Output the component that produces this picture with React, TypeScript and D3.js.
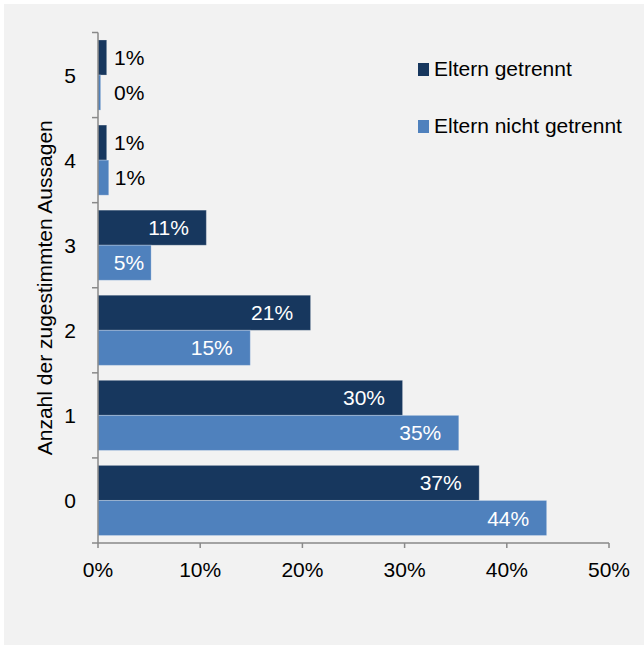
import * as d3 from 'd3';

// Anzahl der zugestimmten Aussagen (y categories, bottom to top)
const categories = ['0', '1', '2', '3', '4', '5'];
const seriesNames = ['Eltern getrennt', 'Eltern nicht getrennt'];
// values in percent
const getrennt = [37.3, 29.8, 20.8, 10.6, 0.85, 0.85];
const nichtGetrennt = [43.9, 35.3, 14.9, 5.2, 1.05, 0.26];
const labelsGetrennt = ['37%', '30%', '21%', '11%', '1%', '1%'];
const labelsNichtGetrennt = ['44%', '35%', '15%', '5%', '1%', '0%'];
const xTicks = [0, 10, 20, 30, 40, 50];

const colors = {
  dark: '#17375e',
  light: '#4f81bd',
  axis: '#898989',
  bg: '#f2f2f2',
};

const width = 644;
const height = 646;
const margin = { top: 32.5, right: 35, bottom: 103, left: 98 };
const font = '"Liberation Sans", Arial, sans-serif';
const fontSize = 21;

export default function App() {
  const x = d3
    .scaleLinear()
    .domain([0, 50])
    .range([margin.left, width - margin.right]);

  const y = d3
    .scaleBand<string>()
    .domain([...categories].reverse())
    .range([margin.top, height - margin.bottom])
    .paddingInner(0.176)
    .paddingOuter(0.088);

  const inner = d3
    .scaleBand<string>()
    .domain(seriesNames)
    .range([0, y.bandwidth()]);

  const gap = (y.step() - y.bandwidth()) / 2;
  const boundaries = categories.map((c) => (y(c) ?? 0) - gap);
  boundaries.push((y(categories[0]) ?? 0) + y.bandwidth() + gap);

  const series = [
    { name: seriesNames[0], values: getrennt, labels: labelsGetrennt, color: colors.dark },
    { name: seriesNames[1], values: nichtGetrennt, labels: labelsNichtGetrennt, color: colors.light },
  ];

  const x0 = x(0);
  const axisY = height - margin.bottom;

  return (
    <svg
      width={width}
      height={height}
      style={{ position: 'absolute', left: 0, top: 0, fontFamily: font }}
    >
      <rect x={0} y={0} width={width} height={height} fill="#fff" />
      <rect x={4} y={4} width={width - 4} height={height - 5} fill={colors.bg} />

      {/* bars */}
      {series.map((s) => (
        <g key={s.name}>
          {categories.map((c, i) => {
            const by = (y(c) ?? 0) + (inner(s.name) ?? 0);
            const bh = inner.bandwidth();
            const end = x(s.values[i]);
            const bw = end - x0;
            const insideLabel = s.values[i] >= 4;
            const inset = bw < 60 ? 7 : 17.5;
            return (
              <g key={c}>
                <rect
                  x={x0}
                  y={by}
                  width={bw}
                  height={bh}
                  fill={s.color}
                  stroke="#ffffff"
                  strokeOpacity={0.25}
                  strokeWidth={1}
                />
                <text
                  x={insideLabel ? end - inset : Math.max(end + 6, x0 + 16)}
                  y={by + bh / 2}
                  dy="0.36em"
                  textAnchor={insideLabel ? 'end' : 'start'}
                  fill={insideLabel ? '#ffffff' : '#000000'}
                  fontSize={fontSize}
                >
                  {s.labels[i]}
                </text>
              </g>
            );
          })}
        </g>
      ))}

      {/* y axis */}
      <g stroke={colors.axis} strokeWidth={1.5}>
        <line x1={x0} x2={x0} y1={margin.top} y2={axisY} />
        {boundaries.map((b, i) => (
          <line key={i} x1={x0 - 6} x2={x0} y1={b} y2={b} />
        ))}
      </g>
      {categories.map((c) => (
        <text
          key={c}
          x={76}
          y={(y(c) ?? 0) + y.bandwidth() / 2}
          dy="0.36em"
          textAnchor="end"
          fontSize={fontSize}
          fill="#000"
        >
          {c}
        </text>
      ))}
      <text
        transform={`translate(52,${(margin.top + axisY) / 2}) rotate(-90)`}
        textAnchor="middle"
        fontSize={fontSize}
        fill="#000"
      >
        Anzahl der zugestimmten Aussagen
      </text>

      {/* x axis */}
      <g stroke={colors.axis} strokeWidth={1.5}>
        <line x1={x0} x2={x(50)} y1={axisY} y2={axisY} />
        {xTicks.map((t) => (
          <line key={t} x1={x(t)} x2={x(t)} y1={axisY} y2={axisY + 5} />
        ))}
      </g>
      {xTicks.map((t) => (
        <text
          key={t}
          x={x(t)}
          y={577}
          textAnchor="middle"
          fontSize={fontSize}
          fill="#000"
        >
          {t}%
        </text>
      ))}

      {/* legend */}
      {series.map((s, i) => (
        <g key={s.name} transform={`translate(418,${76 + i * 57})`}>
          <rect x={0} y={-13} width={11} height={13} fill={s.color} />
          <text x={16} y={0} fontSize={fontSize} fill="#000">
            {s.name}
          </text>
        </g>
      ))}
    </svg>
  );
}
